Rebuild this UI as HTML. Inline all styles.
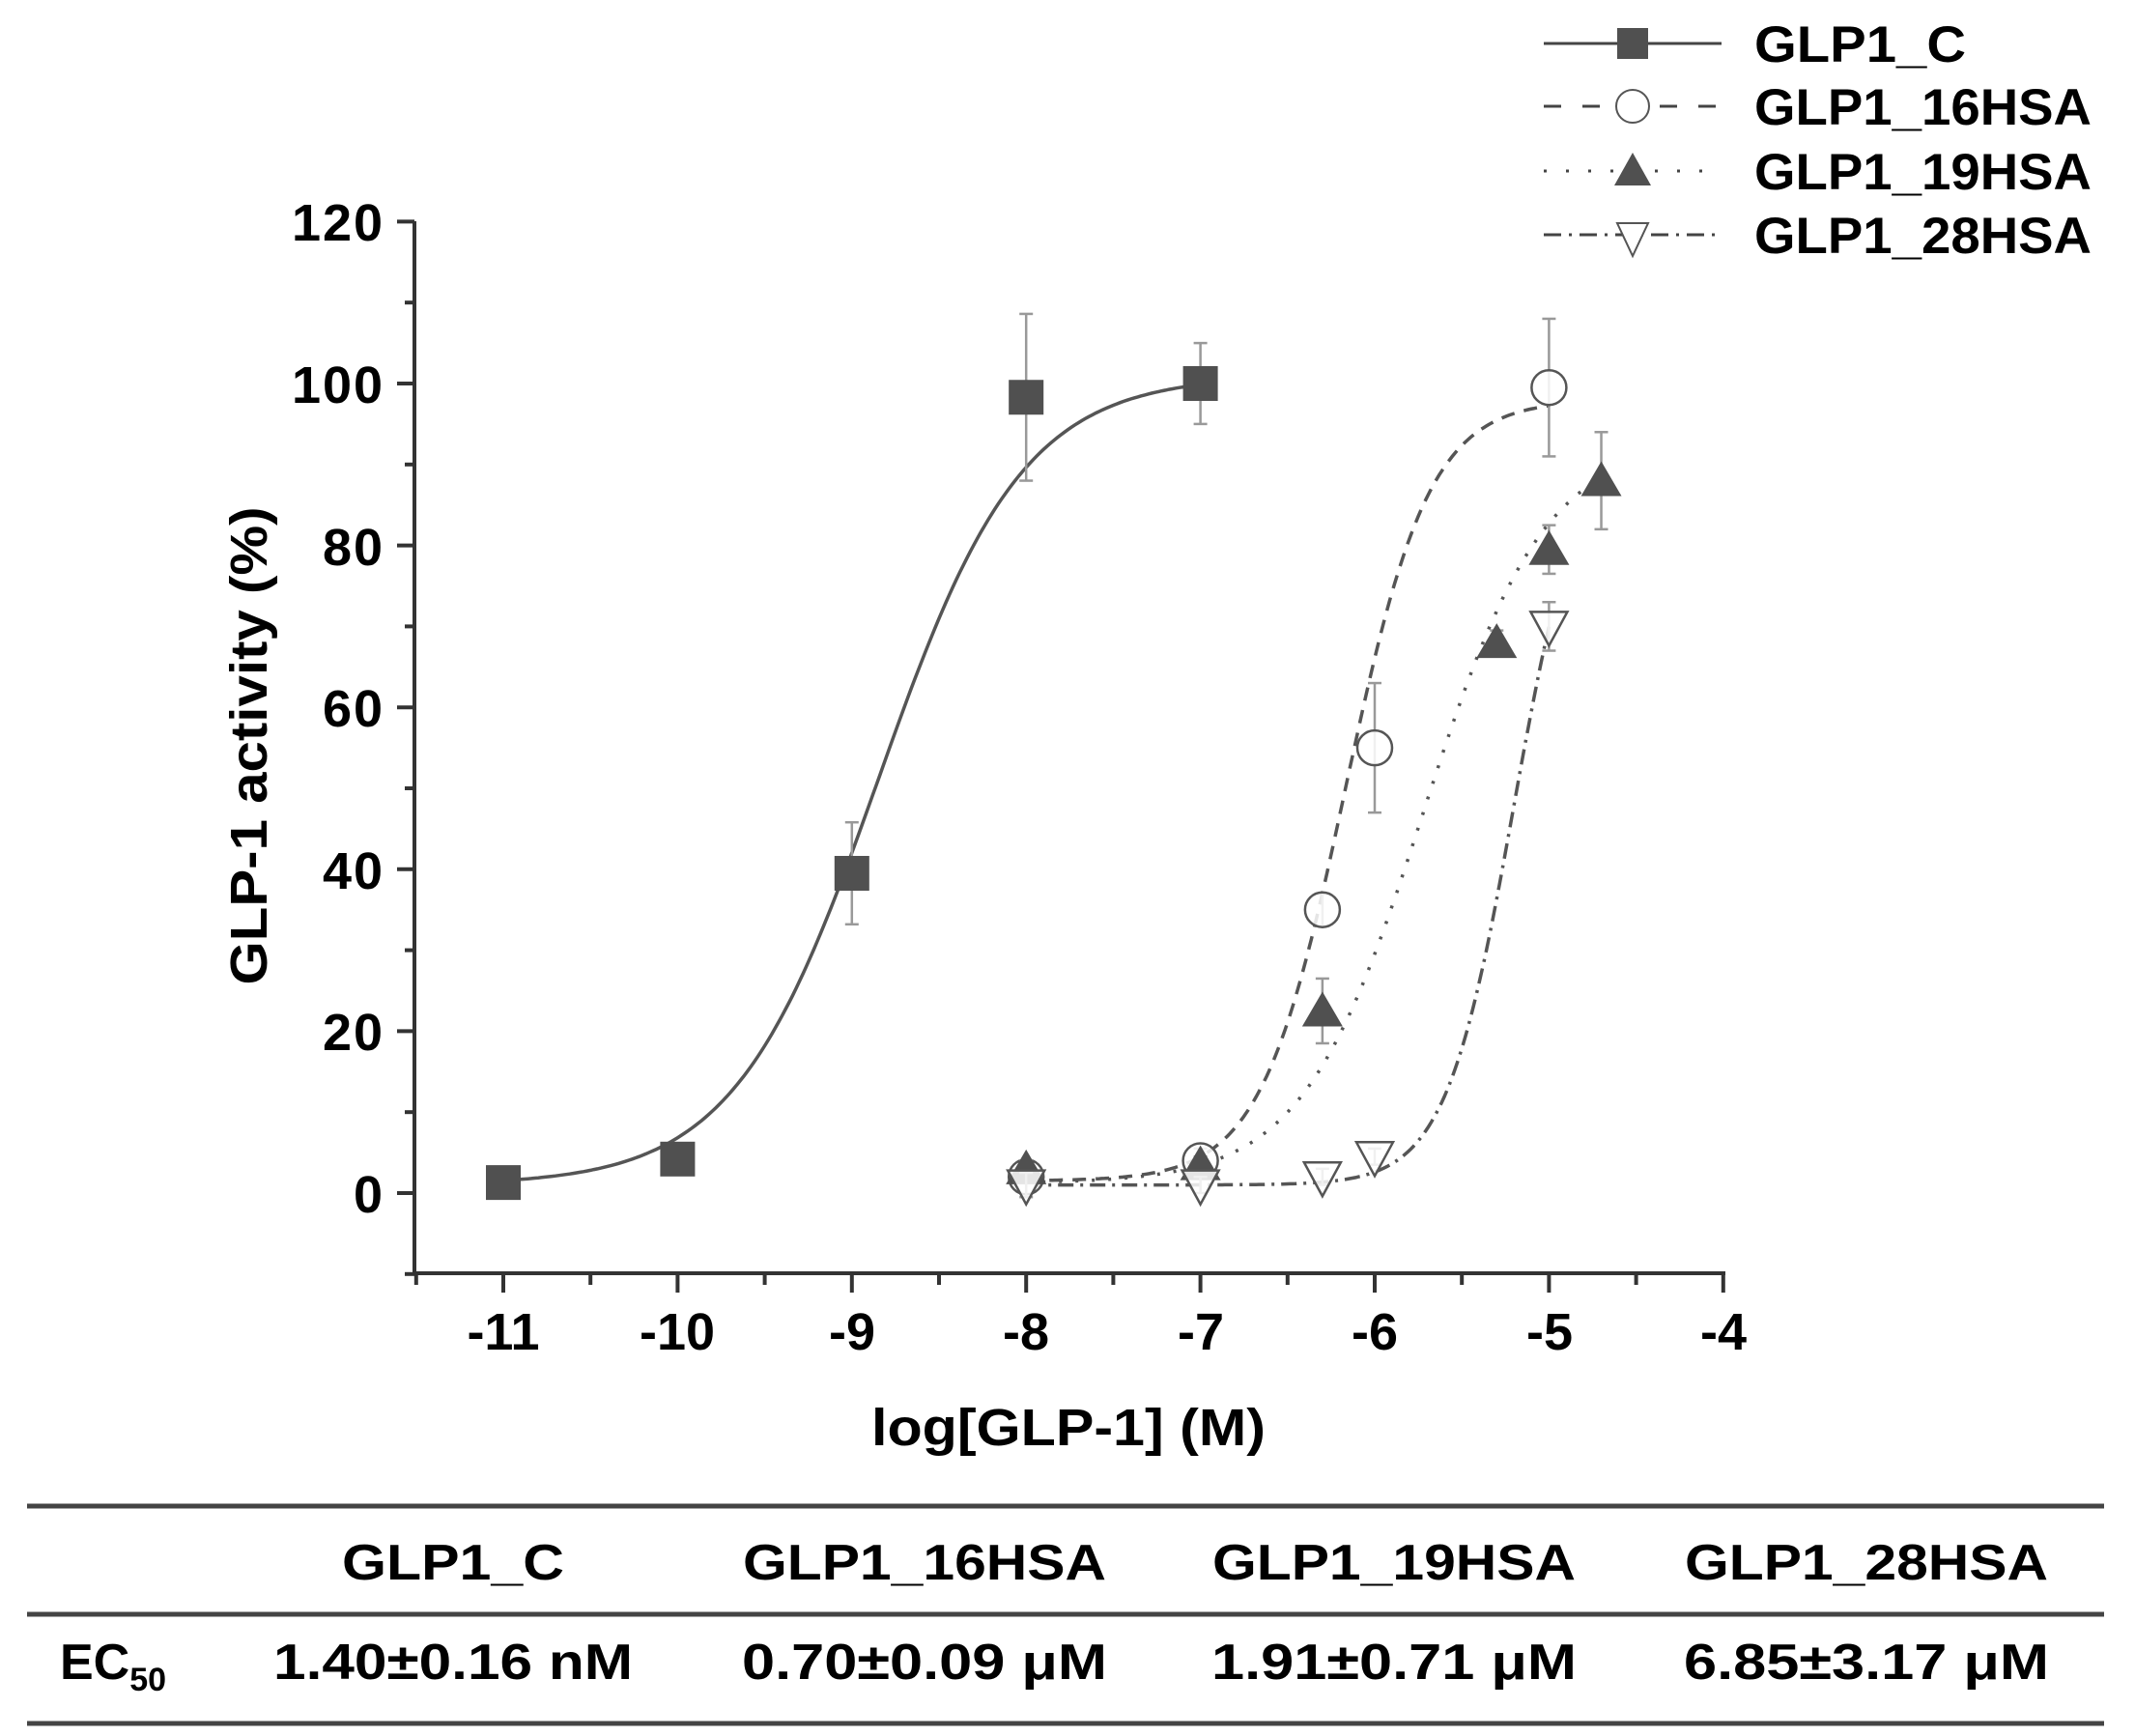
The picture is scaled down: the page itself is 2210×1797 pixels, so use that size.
<!DOCTYPE html>
<html><head><meta charset="utf-8"><style>
html,body{margin:0;padding:0;background:#fff;}
svg{display:block;}
text{font-family:"Liberation Sans",Arial,sans-serif;font-weight:bold;fill:#000;}
</style></head><body>
<svg id="s" width="2210" height="1797" viewBox="0 0 2210 1797" xmlns="http://www.w3.org/2000/svg">
<g id="axes" stroke="#333" stroke-width="4" fill="none">
<line x1="429" y1="229" x2="429" y2="1318"/>
<line x1="427" y1="1318" x2="1786" y2="1318"/>
</g>
<g id="ticks" stroke="#333" stroke-width="4"></g>
<g font-size="54" text-anchor="end">
<text x="396" y="249" textLength="94">120</text>
<text x="396" y="417" textLength="94">100</text>
<text x="396" y="585" textLength="62">80</text>
<text x="396" y="752" textLength="62">60</text>
<text x="396" y="920" textLength="62">40</text>
<text x="396" y="1087" textLength="62">20</text>
<text x="396" y="1255" textLength="31">0</text>
</g>
<g font-size="54" text-anchor="middle">
<text x="521" y="1397">-11</text>
<text x="701" y="1397">-10</text>
<text x="882" y="1397">-9</text>
<text x="1062" y="1397">-8</text>
<text x="1243" y="1397">-7</text>
<text x="1423" y="1397">-6</text>
<text x="1604" y="1397">-5</text>
<text x="1784" y="1397">-4</text>
<text x="1106" y="1496" textLength="408" lengthAdjust="spacingAndGlyphs">log[GLP-1] (M)</text>
<text transform="translate(276,772) rotate(-90)" textLength="495" lengthAdjust="spacingAndGlyphs">GLP-1 activity (%)</text>
</g>
<g id="plot"></g>
<g id="legend" stroke="#444" stroke-width="3" fill="none">
<line x1="1598" y1="45" x2="1782" y2="45"/>
<rect x="1674" y="29" width="32" height="32" fill="#505050" stroke="none"/>
<line x1="1598" y1="110" x2="1782" y2="110" stroke-dasharray="18,22"/>
<circle cx="1690" cy="110" r="17" fill="#fff" stroke="#555" stroke-width="2"/>
<line x1="1598" y1="177" x2="1782" y2="177" stroke-dasharray="3,20"/>
<polygon points="1690,158 1709,192 1671,192" fill="#505050" stroke="none"/>
<line x1="1598" y1="243" x2="1782" y2="243" stroke-dasharray="18,8,3,8"/>
<polygon points="1674,231 1706,231 1690,265" fill="#fff" stroke="#555" stroke-width="2"/>
</g>
<g font-size="53">
<text x="1816" y="64" textLength="219" lengthAdjust="spacingAndGlyphs">GLP1_C</text>
<text x="1816" y="129" textLength="349" lengthAdjust="spacingAndGlyphs">GLP1_16HSA</text>
<text x="1816" y="196" textLength="349" lengthAdjust="spacingAndGlyphs">GLP1_19HSA</text>
<text x="1816" y="262" textLength="349" lengthAdjust="spacingAndGlyphs">GLP1_28HSA</text>
</g>
<g stroke="#444" stroke-width="5">
<line x1="28" y1="1559" x2="2178" y2="1559"/>
<line x1="28" y1="1671" x2="2178" y2="1671"/>
<line x1="28" y1="1784" x2="2178" y2="1784"/>
</g>
<g font-size="52" text-anchor="middle">
<text x="469" y="1635" textLength="230" lengthAdjust="spacingAndGlyphs">GLP1_C</text>
<text x="957" y="1635" textLength="376" lengthAdjust="spacingAndGlyphs">GLP1_16HSA</text>
<text x="1443" y="1635" textLength="376" lengthAdjust="spacingAndGlyphs">GLP1_19HSA</text>
<text x="1932" y="1635" textLength="376" lengthAdjust="spacingAndGlyphs">GLP1_28HSA</text>
<text x="469" y="1738" textLength="372" lengthAdjust="spacingAndGlyphs">1.40±0.16 nM</text>
<text x="957" y="1738" textLength="378" lengthAdjust="spacingAndGlyphs">0.70±0.09 μM</text>
<text x="1443" y="1738" textLength="378" lengthAdjust="spacingAndGlyphs">1.91±0.71 μM</text>
<text x="1932" y="1738" textLength="378" lengthAdjust="spacingAndGlyphs">6.85±3.17 μM</text>
</g>
<text x="62" y="1738" font-size="52">EC<tspan font-size="34" dy="12">50</tspan></text>
</svg>
<script>
(function(){
var NS="http://www.w3.org/2000/svg";
function X(v){return 521+(v+11)*180.4;}
function Y(p){return 1235-p*8.38;}
function el(par,tag,at){var e=document.createElementNS(NS,tag);for(var k in at)e.setAttribute(k,at[k]);document.getElementById(par).appendChild(e);return e;}
// ticks
for(var p=-10;p<=120;p+=10){var big=p%20==0;el("ticks","line",{x1:big?411:419,y1:Y(p),x2:429,y2:Y(p)});}
for(var v=-11.5;v<=-4;v+=0.5){var big=Math.abs(v-Math.round(v))<1e-6;el("ticks","line",{x1:X(v),y1:1318,x2:X(v),y2:big?1338:1330});}
function curve(b,t,e,h,a,z){var d="";for(var i=0;i<=200;i++){var x=a+(z-a)*i/200;var y=b+(t-b)/(1+Math.pow(10,(e-x)*h));d+=(i?"L":"M")+X(x).toFixed(1)+","+Y(y).toFixed(1);}return d;}
var series=[
{c:[1,101,-8.85,1.05,-11,-7],dash:"",pts:[[-11,1.3,0.5],[-10,4.2,1],[-9,39.5,6.3],[-8,98.3,10.3],[-7,100,5]],m:"sq"},
{c:[1.5,98,-6.17,1.8,-8,-5],dash:"14,10",pts:[[-8,2,1],[-7,4,1.5],[-6.3,35,2],[-6,55,8],[-5,99.5,8.5]],m:"ci"},
{c:[1.2,93,-5.72,1.25,-8,-4.7],dash:"3,14",pts:[[-8,3,1],[-7,3.5,1],[-6.3,22.5,4],[-5.3,68,1.5],[-5,79.5,3],[-4.7,88,6]],m:"tu"},
{c:[1,95,-5.2,2.2,-8,-5],dash:"16,7,3,7",pts:[[-8,1,1.5],[-7,1,1],[-6.3,2,1],[-6,4.5,1],[-5,70,3]],m:"td"}
];
series.forEach(function(s){
 var c=s.c;el("plot","path",{d:curve(c[0],c[1],c[2],c[3],c[4],c[5]),fill:"none",stroke:"#555","stroke-width":3.5,"stroke-dasharray":s.dash||"none"});
});
series.forEach(function(s){
 s.pts.forEach(function(q){
  var x=X(q[0]),y=Y(q[1]),e=q[2]*8.38;
  el("plot","line",{x1:x,y1:y-e,x2:x,y2:y+e,stroke:"#999","stroke-width":2.5});
  el("plot","line",{x1:x-7,y1:y-e,x2:x+7,y2:y-e,stroke:"#999","stroke-width":2.5});
  el("plot","line",{x1:x-7,y1:y+e,x2:x+7,y2:y+e,stroke:"#999","stroke-width":2.5});
  if(s.m=="sq")el("plot","rect",{x:x-18,y:y-18,width:36,height:36,fill:"#505050"});
  if(s.m=="ci")el("plot","circle",{cx:x,cy:y,r:18,fill:"#fff","fill-opacity":0.85,stroke:"#555","stroke-width":2.5});
  if(s.m=="tu")el("plot","polygon",{points:(x)+","+(y-20)+" "+(x+21)+","+(y+16)+" "+(x-21)+","+(y+16),fill:"#505050"});
  if(s.m=="td")el("plot","polygon",{points:(x-19)+","+(y-15)+" "+(x+19)+","+(y-15)+" "+x+","+(y+20),fill:"#fff","fill-opacity":0.85,stroke:"#555","stroke-width":2.5});
 });
});
})();
</script>
</body></html>
